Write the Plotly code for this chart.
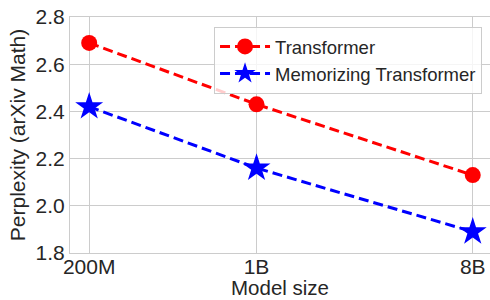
import math
import plotly.graph_objects as go

sizes = [2e8, 1e9, 8e9]
size_labels = ["200M", "1B", "8B"]
transformer = [2.69, 2.43, 2.13]
memorizing = [2.42, 2.16, 1.89]

FONT = "Liberation Sans, Arial, sans-serif"
TXT = "#262626"
GRID = "#cccccc"

fig = go.Figure()
fig.add_trace(go.Scatter(
    x=sizes, y=transformer, name="Transformer", mode="lines+markers",
    line=dict(color="red", width=3, dash="10px,5px"),
    marker=dict(symbol="circle", size=16, color="red"),
))
fig.add_trace(go.Scatter(
    x=sizes, y=memorizing, name="Memorizing Transformer", mode="lines+markers",
    line=dict(color="blue", width=3, dash="10px,5px"),
    marker=dict(symbol="star", size=21, color="blue"),
))

lo = math.log10(sizes[0]); hi = math.log10(sizes[-1])
span = hi - lo
fig.update_layout(
    width=490, height=300,
    margin=dict(l=70, r=0, t=17, b=47),
    paper_bgcolor="white", plot_bgcolor="white",
    font=dict(family=FONT, color=TXT, size=21),
    showlegend=True,
    legend=dict(
        x=0.981, xanchor="right", y=0.958, yanchor="top",
        bgcolor="rgba(255,255,255,0.8)", bordercolor=GRID, borderwidth=1,
        font=dict(size=18.5, color=TXT), itemwidth=50,
    ),
    xaxis=dict(
        type="log", range=[lo - 0.05 * span, hi + 0.045 * span],
        tickvals=sizes, ticktext=size_labels, automargin=False,
        showgrid=True, gridcolor=GRID, gridwidth=1,
        showline=True, linecolor=GRID, linewidth=1, mirror=True,
        ticks="", zeroline=False, ticklabelstandoff=-5,
        tickfont=dict(size=21, color=TXT),
    ),
    yaxis=dict(
        range=[1.8, 2.8], tickvals=[1.8, 2.0, 2.2, 2.4, 2.6, 2.8],
        ticktext=["1.8", "2.0", "2.2", "2.4", "2.6", "2.8"], automargin=False,
        showgrid=True, gridcolor=GRID, gridwidth=1,
        showline=True, linecolor=GRID, linewidth=1,
        ticks="", zeroline=False,
        tickfont=dict(size=21, color=TXT),
        title=dict(text="Perplexity (arXiv Math)", font=dict(size=21, color=TXT), standoff=4),
    ),
    annotations=[dict(
        text="Model size", xref="paper", yref="paper", x=0.5, y=-0.199,
        xanchor="center", yanchor="bottom", showarrow=False, borderpad=0,
        font=dict(size=20.5, color=TXT),
    )],
)

fig.write_html(
    "out.html",
    config={"displayModeBar": False},
    post_script="document.body.style.margin='0';document.body.style.padding='0';document.body.style.overflow='hidden';",
)
